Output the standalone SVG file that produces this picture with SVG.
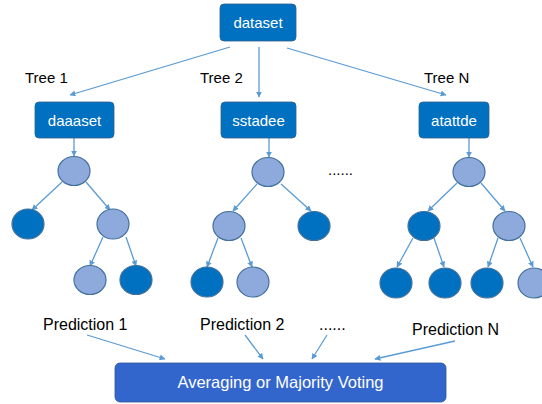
<svg xmlns="http://www.w3.org/2000/svg" width="542" height="404" viewBox="0 0 542 404">
<style>
.box{fill:#0070C0;stroke:#2E5F8E;stroke-width:0.8}
.bt{font-family:"Liberation Sans",Arial,sans-serif;font-size:15px;fill:#fff;text-anchor:middle}
.lb{font-family:"Liberation Sans",Arial,sans-serif;font-size:15px;fill:#000}
.pl{font-family:"Liberation Sans",Arial,sans-serif;font-size:16px;fill:#000}
.lt{fill:#8EA9DB;stroke:#41719C;stroke-width:1.2}
.dk{fill:#0070C0;stroke:#41719C;stroke-width:1.2}
.cn{stroke:#5B9BD5;stroke-width:1.3;fill:none;marker-end:url(#ah)}
</style>
<defs>
<marker id="ah" viewBox="0 0 10 10" refX="9" refY="5" markerWidth="6" markerHeight="6" orient="auto" markerUnits="userSpaceOnUse">
<path d="M0,0 L10,5 L0,10 z" fill="#5B9BD5"/>
</marker>
</defs>
<rect width="542" height="404" fill="#fff"/>
<g id="connectors">
<line class="cn" x1="230" y1="47" x2="70" y2="95"/>
<line class="cn" x1="259" y1="47" x2="259" y2="97"/>
<line class="cn" x1="287" y1="48" x2="446" y2="95"/>
<line class="cn" x1="74" y1="138" x2="74" y2="156"/>
<line class="cn" x1="62" y1="182" x2="32" y2="210"/>
<line class="cn" x1="86" y1="182" x2="110" y2="210"/>
<line class="cn" x1="103" y1="237" x2="90" y2="266"/>
<line class="cn" x1="126" y1="237" x2="136" y2="266"/>
<line class="cn" x1="269" y1="138" x2="269" y2="157"/>
<line class="cn" x1="257" y1="184" x2="233" y2="211"/>
<line class="cn" x1="281" y1="184" x2="311" y2="211"/>
<line class="cn" x1="218" y1="238" x2="207" y2="267"/>
<line class="cn" x1="241" y1="238" x2="252" y2="267"/>
<line class="cn" x1="469" y1="138" x2="469" y2="157"/>
<line class="cn" x1="457" y1="183" x2="428" y2="211"/>
<line class="cn" x1="481" y1="183" x2="505" y2="211"/>
<line class="cn" x1="413" y1="238" x2="397" y2="267"/>
<line class="cn" x1="434" y1="238" x2="444" y2="267"/>
<line class="cn" x1="498" y1="238" x2="488" y2="267"/>
<line class="cn" x1="520" y1="238" x2="533" y2="267"/>
<line class="cn" x1="87" y1="335" x2="165" y2="359"/>
<line class="cn" x1="245" y1="335" x2="263" y2="359"/>
<line class="cn" x1="327" y1="335" x2="312" y2="359"/>
<line class="cn" x1="455" y1="341" x2="375" y2="359"/>
</g>
<g id="dataset"><rect class="box" x="220" y="4" width="76" height="37" rx="4"/><text class="bt" x="258" y="28">dataset</text></g>
<g id="tree1-label"><text class="lb" x="25" y="83">Tree 1</text></g>
<g id="tree2-label"><text class="lb" x="200" y="83">Tree 2</text></g>
<g id="treeN-label"><text class="lb" x="424" y="83">Tree N</text></g>
<g id="daaaset"><rect class="box" x="35" y="102" width="79" height="36" rx="4"/><text class="bt" x="74.5" y="126">daaaset</text></g>
<g id="sstadee"><rect class="box" x="221" y="102" width="75" height="36" rx="4"/><text class="bt" x="258.5" y="126">sstadee</text></g>
<g id="atattde"><rect class="box" x="419" y="102" width="70" height="36" rx="4"/><text class="bt" x="454" y="126">atattde</text></g>
<g id="t1-root"><ellipse class="lt" cx="74" cy="171" rx="16" ry="14.5"/></g>
<g id="t1-l"><ellipse class="dk" cx="28" cy="224" rx="16" ry="15"/></g>
<g id="t1-r"><ellipse class="lt" cx="113" cy="224" rx="16" ry="15"/></g>
<g id="t1-rl"><ellipse class="lt" cx="90" cy="280" rx="16" ry="14.5"/></g>
<g id="t1-rr"><ellipse class="dk" cx="136" cy="280" rx="16" ry="14.5"/></g>
<g id="t2-root"><ellipse class="lt" cx="268" cy="172" rx="16" ry="14.5"/></g>
<g id="t2-l"><ellipse class="lt" cx="229" cy="226" rx="16" ry="14.5"/></g>
<g id="t2-r"><ellipse class="dk" cx="314" cy="226" rx="16" ry="14.5"/></g>
<g id="t2-ll"><ellipse class="dk" cx="207" cy="282" rx="16" ry="15"/></g>
<g id="t2-lr"><ellipse class="lt" cx="253" cy="282" rx="16" ry="15"/></g>
<g id="dots-mid"><text class="lb" x="328" y="175">......</text></g>
<g id="tN-root"><ellipse class="lt" cx="469" cy="172" rx="16" ry="14.5"/></g>
<g id="tN-l"><ellipse class="dk" cx="424" cy="226" rx="16" ry="14.5"/></g>
<g id="tN-r"><ellipse class="lt" cx="509" cy="226" rx="16" ry="14.5"/></g>
<g id="tN-ll"><ellipse class="dk" cx="396" cy="283" rx="16" ry="15"/></g>
<g id="tN-lr"><ellipse class="dk" cx="445" cy="283" rx="16" ry="15"/></g>
<g id="tN-rl"><ellipse class="dk" cx="487" cy="283" rx="16" ry="15"/></g>
<g id="tN-rr"><ellipse class="lt" cx="534" cy="283" rx="16" ry="15"/></g>
<g id="pred1"><text class="pl" x="43" y="330">Prediction 1</text></g>
<g id="pred2"><text class="pl" x="200" y="330">Prediction 2</text></g>
<g id="pred-dots"><text class="pl" x="319" y="330">......</text></g>
<g id="predN"><text class="pl" x="412" y="335">Prediction N</text></g>
<g id="voting"><rect x="115" y="363" width="331" height="39" rx="5" fill="#3366CC" stroke="#2E5597" stroke-width="0.8"/><text class="bt" x="280.5" y="388" style="font-size:16.5px">Averaging or Majority Voting</text></g>
</svg>
